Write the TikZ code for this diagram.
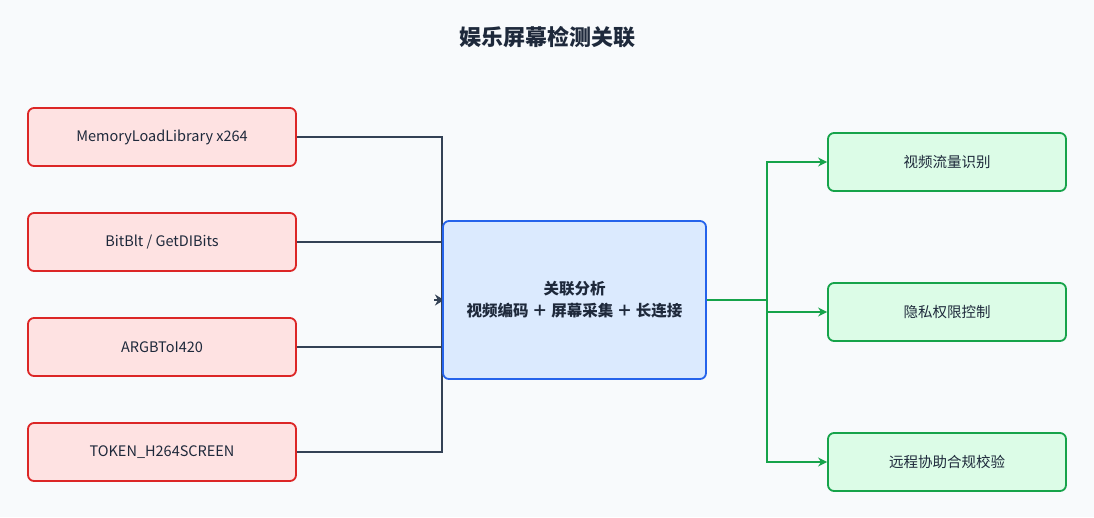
\documentclass[tikz,border=0pt]{standalone}
\usepackage{fontspec}
\setmainfont{Noto Sans CJK SC}
\usetikzlibrary{arrows.meta}
\definecolor{bg}{HTML}{F8FAFC}
\definecolor{rfill}{HTML}{FEE2E2}\definecolor{rdraw}{HTML}{DC2626}
\definecolor{gfill}{HTML}{DCFCE7}\definecolor{gdraw}{HTML}{16A34A}
\definecolor{bfill}{HTML}{DBEAFE}\definecolor{bdraw}{HTML}{2563EB}
\definecolor{ln}{HTML}{334155}\definecolor{txt}{HTML}{1E293B}
\begin{document}
\begin{tikzpicture}[x=1pt,y=-1pt,
 box/.style={draw,rounded corners=6pt,line width=1.8pt,minimum height=58pt,text=txt,font=\fontsize{14.5}{17}\selectfont,inner sep=0pt},
 red/.style={box,fill=rfill,draw=rdraw,minimum width=268pt},
 grn/.style={box,fill=gfill,draw=gdraw,minimum width=238pt},
 lin/.style={ln,line width=1.8pt},
 gl/.style={gdraw,line width=2.6pt,-{Stealth[length=9pt,width=9pt]}}]
\fill[bg] (0,0) rectangle (1094,517);
\node[font=\fontsize{22}{26}\selectfont\bfseries,text=txt] (title) at (547,37) {娱乐屏幕检测关联};
\node[red] (a) at (162,137) {MemoryLoadLibrary x264};
\node[red] (b) at (162,242) {BitBlt / GetDIBits};
\node[red] (c) at (162,347) {ARGBToI420};
\node[red] (d) at (162,452) {TOKEN\_H264SCREEN};
\coordinate (j) at (442,300);
\draw[lin] (a.east) -| (j);
\draw[lin] (b.east) -| (j);
\draw[lin] (c.east) -| (j);
\draw[lin] (d.east) -| (j);
\draw[lin,-{Stealth[length=9pt,width=11pt]}] (434,300) -- (444,300);
\node[box,fill=bfill,draw=bdraw,minimum width=263pt,minimum height=158pt,align=center,font=\fontsize{15.5}{22}\selectfont\bfseries] (m) at (574.5,300) {关联分析\\视频编码 ＋ 屏幕采集 ＋ 长连接};
\node[grn] (x) at (947,162) {视频流量识别};
\node[grn] (y) at (947,312) {隐私权限控制};
\node[grn] (z) at (947,462) {远程协助合规校验};
\coordinate (k) at (767,300);
\draw[gdraw,line width=2.6pt] (m.east) -- (k);
\draw[gl] (k) |- (x.west);
\draw[gl] (k) |- (y.west);
\draw[gl] (k) |- (z.west);
\end{tikzpicture}
\end{document}
